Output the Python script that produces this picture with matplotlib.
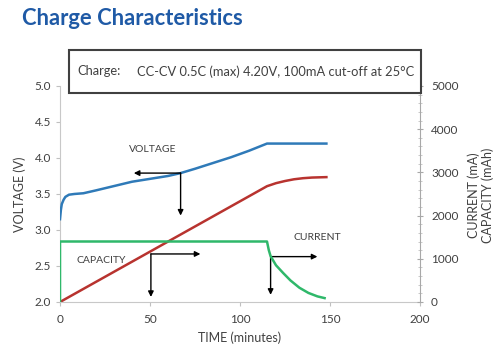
import matplotlib
matplotlib.use("Agg")
import matplotlib.pyplot as plt
from matplotlib.patches import Rectangle
from matplotlib.ticker import MultipleLocator

plt.rcParams['font.family'] = ['Lato', 'DejaVu Sans']

# ---- data ----
volt_t = [0, 0.5, 1, 2, 3, 5, 8, 13, 20, 30, 40, 50, 60, 67, 75, 85, 95, 105, 110, 115, 120, 130, 140, 148]
volt_v = [3.15, 3.28, 3.36, 3.42, 3.46, 3.49, 3.50, 3.51, 3.55, 3.61, 3.67, 3.71, 3.75, 3.79, 3.85, 3.93, 4.01, 4.10, 4.15, 4.20, 4.20, 4.20, 4.20, 4.20]

cap_t = [0, 115, 120, 125, 130, 135, 140, 148]
cap_v = [0, 2680, 2750, 2800, 2840, 2865, 2880, 2890]

cur_t = [0, 0, 115, 116, 117, 120, 124, 128, 133, 138, 143, 147]
cur_v = [0, 1400, 1400, 1200, 1060, 850, 670, 500, 330, 210, 130, 90]

x_ticks = [0, 50, 100, 150, 200]
v_ticks = [2.0, 2.5, 3.0, 3.5, 4.0, 4.5, 5.0]
ma_ticks = [0, 1000, 2000, 3000, 4000, 5000]

# arrows: (origin, horizontal end, vertical end) in (time, voltage) coords
arrows = {
    "VOLTAGE": ((67, 3.79), (41, 3.79), (67, 3.20)),
    "CAPACITY": ((50.5, 2.667), (78, 2.667), (50.5, 2.07)),
    "CURRENT": ((117, 2.63), (143, 2.63), (117, 2.10)),
}
labels = {"VOLTAGE": (51.7, 4.12), "CAPACITY": (23, 2.57), "CURRENT": (143, 2.89)}

blue = "#2f7ab8"
red = "#b8332f"
green = "#2fb86a"
txt = "#404040"

fig = plt.figure(figsize=(5.0, 3.53), dpi=100)
ax = fig.add_axes([0.12, 0.1445, 0.72, 0.612])
ax2 = ax.twinx()

ax.plot(volt_t, volt_v, color=blue, lw=1.8, zorder=3)
ax2.plot(cap_t, cap_v, color=red, lw=1.8)
ax2.plot(cur_t, cur_v, color=green, lw=1.8)

ax.set_xlim(0, 200)
ax.set_ylim(2.0, 5.0)
ax2.set_ylim(0, 5000)
ax.set_xticks(x_ticks)
ax.set_yticks(v_ticks)
ax.set_yticklabels([f"{v:.1f}" for v in v_ticks])
ax2.set_yticks(ma_ticks)
ax2.yaxis.set_minor_locator(MultipleLocator(200))

for a in (ax, ax2):
    a.spines['top'].set_visible(False)
    a.set_facecolor('none')
ax.spines['left'].set_color('#c8c8c8')
ax.spines['bottom'].set_color('#c8c8c8')
ax.spines['right'].set_visible(False)
ax2.spines['left'].set_visible(False)
ax2.spines['bottom'].set_visible(False)
ax2.spines['right'].set_color('#a8a8a8')

ax.tick_params(axis='both', colors='#c0c0c0', labelcolor=txt, labelsize=8.5, length=3, width=0.8)
ax.tick_params(axis='x', pad=6)
ax2.tick_params(axis='y', which='major', colors='#a8a8a8', labelcolor=txt, labelsize=8.5,
                length=4, width=0.8, direction='inout', pad=6)
ax2.tick_params(axis='y', which='minor', colors='#c0c0c0', length=2.5, width=0.6, direction='inout')

ax.set_xlabel("TIME (minutes)", fontsize=9, color=txt, labelpad=4)
ax.set_ylabel("VOLTAGE (V)", fontsize=9, color=txt, labelpad=6)
fig.text(0.962, 0.448, "CURRENT (mA)\nCAPACITY (mAh)", rotation=90, ha='center', va='center',
         fontsize=9, color=txt, linespacing=1.1)

for key, (o, h, v) in arrows.items():
    for end in (h, v):
        ax.annotate("", xy=end, xytext=o,
                    arrowprops=dict(arrowstyle='-|>', color='black', lw=1.0,
                                    mutation_scale=8, shrinkA=0, shrinkB=0),
                    zorder=5)
for key, (x, y) in labels.items():
    ax.text(x, y, key, ha='center', va='center', fontsize=7.5, color=txt)

# header box
fig.patches.append(Rectangle((0.138, 0.7365), 0.704, 0.1215, transform=fig.transFigure,
                             facecolor='white', edgecolor='#404040', lw=1.5, zorder=10))
fig.text(0.154, 0.7975, "Charge:", fontsize=9.3, color=txt, va='center', zorder=11)
fig.text(0.274, 0.7975, "CC-CV 0.5C (max) 4.20V, 100mA cut-off at 25\u00b0C", fontsize=9.3,
         color=txt, va='center', zorder=11)

fig.text(0.044, 0.949, "Charge Characteristics", fontsize=15.8, fontweight='bold',
         color="#1f5aa6", va='center', ha='left')

fig.savefig("out.png", dpi=100)
